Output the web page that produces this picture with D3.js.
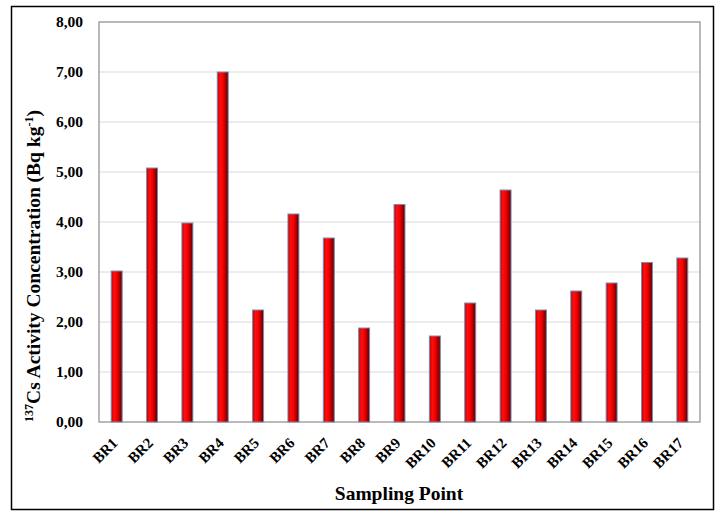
<!DOCTYPE html>
<html><head><meta charset="utf-8">
<script src="https://cdn.jsdelivr.net/npm/d3@7"></script>
<style>body{margin:0;background:#fff;}text{font-family:"Liberation Serif","Times New Roman",serif;font-weight:bold;}</style>
</head><body>
<svg id="c" width="720" height="515"></svg>
<script>
const categories = ["BR1","BR2","BR3","BR4","BR5","BR6","BR7","BR8","BR9","BR10","BR11","BR12","BR13","BR14","BR15","BR16","BR17"];
const values = [3.02,5.08,3.98,7.00,2.24,4.16,3.68,1.88,4.35,1.72,2.38,4.64,2.24,2.62,2.78,3.19,3.28];
const yTicks = [0,1,2,3,4,5,6,7,8];

const svg = d3.select("#c");
const m = {left:99, right:700, top:22, bottom:422};
const x = d3.scaleBand().domain(categories).range([m.left, m.right]).paddingInner(0.69).paddingOuter(0.345);
const y = d3.scaleLinear().domain([0,8]).range([m.bottom, m.top]);

const defs = svg.append("defs");
const g = defs.append("linearGradient").attr("id","bar").attr("x1","0").attr("x2","1").attr("y1","0").attr("y2","0");
g.append("stop").attr("offset","0").attr("stop-color","#b00000");
g.append("stop").attr("offset","0.25").attr("stop-color","#ff1010");
g.append("stop").attr("offset","0.55").attr("stop-color","#f00000");
g.append("stop").attr("offset","1").attr("stop-color","#5a0000");

// outer frame
svg.append("rect").attr("x",11.5).attr("y",6.5).attr("width",702).attr("height",503).attr("fill","#fff").attr("stroke","#000").attr("stroke-width",1.5);

// gridlines
svg.append("g").selectAll("line").data(yTicks.filter(d=>d>0 && d<8)).join("line")
  .attr("x1",m.left).attr("x2",m.right).attr("y1",d=>y(d)).attr("y2",d=>y(d))
  .attr("stroke","#e6e6e6").attr("stroke-width",1.5);

// plot frame
svg.append("rect").attr("x",m.left).attr("y",m.top).attr("width",m.right-m.left).attr("height",m.bottom-m.top)
  .attr("fill","none").attr("stroke","#8c8c8c").attr("stroke-width",1.2);

// y axis labels
const yAxis = d3.axisLeft(y).tickValues(yTicks).tickSize(0).tickPadding(16).tickFormat(d=>d3.format(".2f")(d).replace(".",","));
const ya = svg.append("g").attr("transform",`translate(${m.left},0)`).call(yAxis);
ya.select(".domain").remove();
ya.selectAll("text").attr("font-size",15.5).attr("fill","#000").style("font-family","'Liberation Serif',serif").style("font-weight","bold");

// bars
svg.append("g").selectAll("rect").data(values).join("rect")
  .attr("x",(d,i)=>x(categories[i])).attr("width",x.bandwidth())
  .attr("y",d=>y(d)).attr("height",d=>y(0)-y(d))
  .attr("fill","url(#bar)").attr("stroke","#7a8db0").attr("stroke-width",1);

// x labels, rotated -45 degrees
svg.append("g").selectAll("text").data(categories).join("text")
  .attr("transform",d=>`translate(${x(d)+x.bandwidth()/2+2},${m.bottom+22}) rotate(-45)`)
  .attr("text-anchor","end").attr("font-size",15).attr("fill","#000").text(d=>d);

// axis titles
svg.append("text").attr("x",399).attr("y",500).attr("text-anchor","middle").attr("font-size",19.5).text("Sampling Point");
const yt = svg.append("text").attr("transform","translate(40,266) rotate(-90)").attr("text-anchor","middle").attr("font-size",19.5);
yt.append("tspan").attr("font-size",12).attr("dy",-7).text("137");
yt.append("tspan").attr("dy",7).text("Cs Activity Concentration (Bq kg");
yt.append("tspan").attr("font-size",12).attr("dy",-7).text("-1");
yt.append("tspan").attr("dy",7).text(")");
</script>
</body></html>
